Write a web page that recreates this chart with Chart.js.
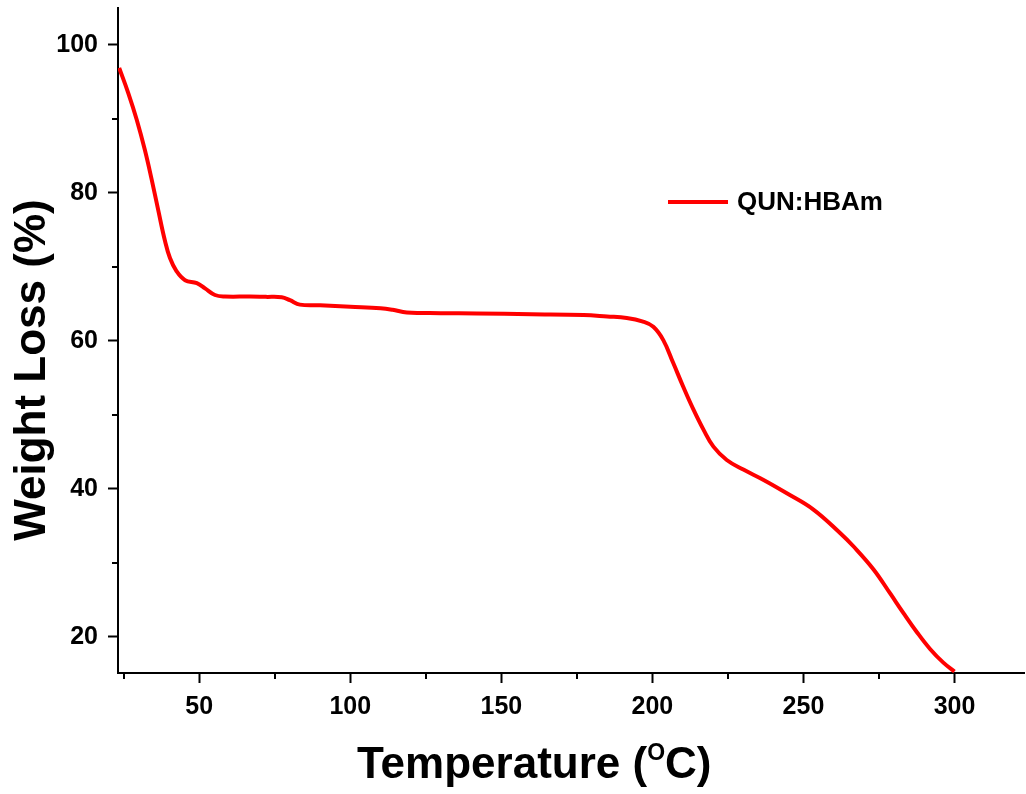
<!DOCTYPE html>
<html>
<head>
<meta charset="utf-8">
<title>TGA QUN:HBAm</title>
<script src="https://cdn.jsdelivr.net/npm/chart.js@4.4.1/dist/chart.umd.min.js"></script>
<style>
  html, body { margin: 0; padding: 0; background: #fff; }
  #wrap { width: 1026px; height: 794px; }
</style>
</head>
<body>
<div id="wrap"><canvas id="myChart" width="1026" height="794"></canvas></div>
<script>
// TGA curve, temperature in degC against remaining weight %
const temperature = [
  23.5, 26.5, 29.3, 32, 34.2, 36.4, 38.6, 40.3, 42.5, 45.3,
  49.2, 51.9, 55.2, 58.5, 66.8, 72, 77.3, 80, 83.3, 90,
  100, 110, 114, 118.7, 130, 141.9, 160, 177.2, 185, 191.5,
  196.9, 200.3, 203.6, 206.9, 210.2, 213.6, 216.9, 220.2, 224.6, 230.1,
  236.8, 244.5, 253.3, 262.2, 266.6, 273.2, 278.7, 283.1, 287.5, 291.9,
  296.3, 300
];
const weight = [
  96.9, 93.5, 89.9, 85.8, 81.9, 77.7, 73.6, 71.2, 69.4, 68.2,
  67.8, 67.1, 66.2, 66.0, 66.0, 65.95, 65.9, 65.5, 64.9, 64.8,
  64.6, 64.4, 64.2, 63.85, 63.75, 63.7, 63.6, 63.5, 63.3, 63.1,
  62.6, 61.9, 60.1, 57.0, 53.8, 50.7, 48.0, 45.7, 43.9, 42.6,
  41.2, 39.4, 37.2, 34.0, 32.2, 29.1, 25.85, 23.2, 20.65, 18.35,
  16.5, 15.3
];
const xMajorTicks = [50, 100, 150, 200, 250, 300];
const xMinorTicks = [25, 75, 125, 175, 225, 275];
const yMajorTicks = [20, 40, 60, 80, 100];
const yMinorTicks = [30, 50, 70, 90];
const seriesLabel = 'QUN:HBAm';

const FONT = '"Liberation Sans", Arial, sans-serif';

const points = temperature.map((t, i) => ({ x: t, y: weight[i] }));

// minor ticks, axis titles and the legend entry
const extras = {
  id: 'extras',
  afterDraw(chart) {
    const { ctx, chartArea, scales } = chart;
    const xs = scales.x, ys = scales.y;
    ctx.save();
    ctx.strokeStyle = '#000';
    ctx.lineWidth = 2;
    xMinorTicks.forEach(v => {
      const px = Math.round(xs.getPixelForValue(v));
      ctx.beginPath();
      ctx.moveTo(px, chartArea.bottom);
      ctx.lineTo(px, chartArea.bottom + 6);
      ctx.stroke();
    });
    yMinorTicks.forEach(v => {
      const py = Math.round(ys.getPixelForValue(v));
      ctx.beginPath();
      ctx.moveTo(chartArea.left, py);
      ctx.lineTo(chartArea.left - 6, py);
      ctx.stroke();
    });

    // x title with superscript O
    ctx.fillStyle = '#000';
    ctx.textBaseline = 'alphabetic';
    ctx.textAlign = 'left';
    const big = 'bold 44px ' + FONT;
    const small = 'bold 23px ' + FONT;
    const partA = 'Temperature (';
    const partB = 'O';
    const partC = 'C)';
    ctx.font = big;
    const wA = ctx.measureText(partA).width;
    ctx.font = small;
    const wB = ctx.measureText(partB).width;
    const x0 = 357;
    const base = 778;
    ctx.font = big;
    ctx.fillText(partA, x0, base);
    ctx.font = small;
    ctx.fillText(partB, x0 + wA, base - 18);
    ctx.font = big;
    ctx.fillText(partC, x0 + wA + wB, base);

    // y title
    ctx.save();
    ctx.translate(33, 370);
    ctx.rotate(-Math.PI / 2);
    ctx.textAlign = 'center';
    ctx.textBaseline = 'middle';
    ctx.font = 'bold 44px ' + FONT;
    ctx.fillText('Weight Loss (%)', 0, 0);
    ctx.restore();

    // legend entry
    const ds = chart.data.datasets[0];
    ctx.strokeStyle = ds.borderColor;
    ctx.lineWidth = 4;
    ctx.beginPath();
    ctx.moveTo(668, 202);
    ctx.lineTo(728, 202);
    ctx.stroke();
    ctx.fillStyle = '#000';
    ctx.font = 'bold 26px ' + FONT;
    ctx.textAlign = 'left';
    ctx.textBaseline = 'middle';
    ctx.fillText(ds.label, 737, 203);
    ctx.restore();
  }
};

const noEdgePadding = s => {
  s.paddingTop = 0;
  s.paddingBottom = 0;
  s.paddingLeft = 0;
  s.paddingRight = 0;
};

const ctx = document.getElementById('myChart');

new Chart(ctx, {
  type: 'scatter',
  data: {
    datasets: [{
      label: seriesLabel,
      data: points,
      showLine: true,
      borderColor: '#ff0000',
      backgroundColor: '#ff0000',
      borderWidth: 4,
      pointRadius: 0,
      tension: 0.4
    }]
  },
  options: {
    responsive: false,
    animation: false,
    layout: { padding: { top: 8, right: 2, left: 0, bottom: 0 } },
    plugins: {
      legend: { display: false },
      tooltip: { enabled: false }
    },
    scales: {
      x: {
        type: 'linear',
        min: 23.1,
        max: 323,
        afterBuildTicks: s => { s.ticks = xMajorTicks.map(v => ({ value: v })); },
        afterFit: s => { s.height = 121; noEdgePadding(s); },
        border: { display: true, color: '#000', width: 2 },
        grid: { drawOnChartArea: false, drawTicks: true, tickLength: 10, tickWidth: 2, tickColor: '#000' },
        ticks: {
          color: '#000',
          padding: 9,
          maxRotation: 0,
          font: { family: FONT, size: 25, weight: 'bold' }
        }
      },
      y: {
        type: 'linear',
        min: 15.1,
        max: 105,
        afterBuildTicks: s => { s.ticks = yMajorTicks.map(v => ({ value: v })); },
        afterFit: s => { s.width = 118; noEdgePadding(s); },
        border: { display: true, color: '#000', width: 2 },
        grid: { drawOnChartArea: false, drawTicks: true, tickLength: 10, tickWidth: 2, tickColor: '#000' },
        ticks: {
          color: '#000',
          padding: 10,
          font: { family: FONT, size: 25, weight: 'bold' }
        }
      }
    }
  },
  plugins: [extras]
});
</script>
</body>
</html>
